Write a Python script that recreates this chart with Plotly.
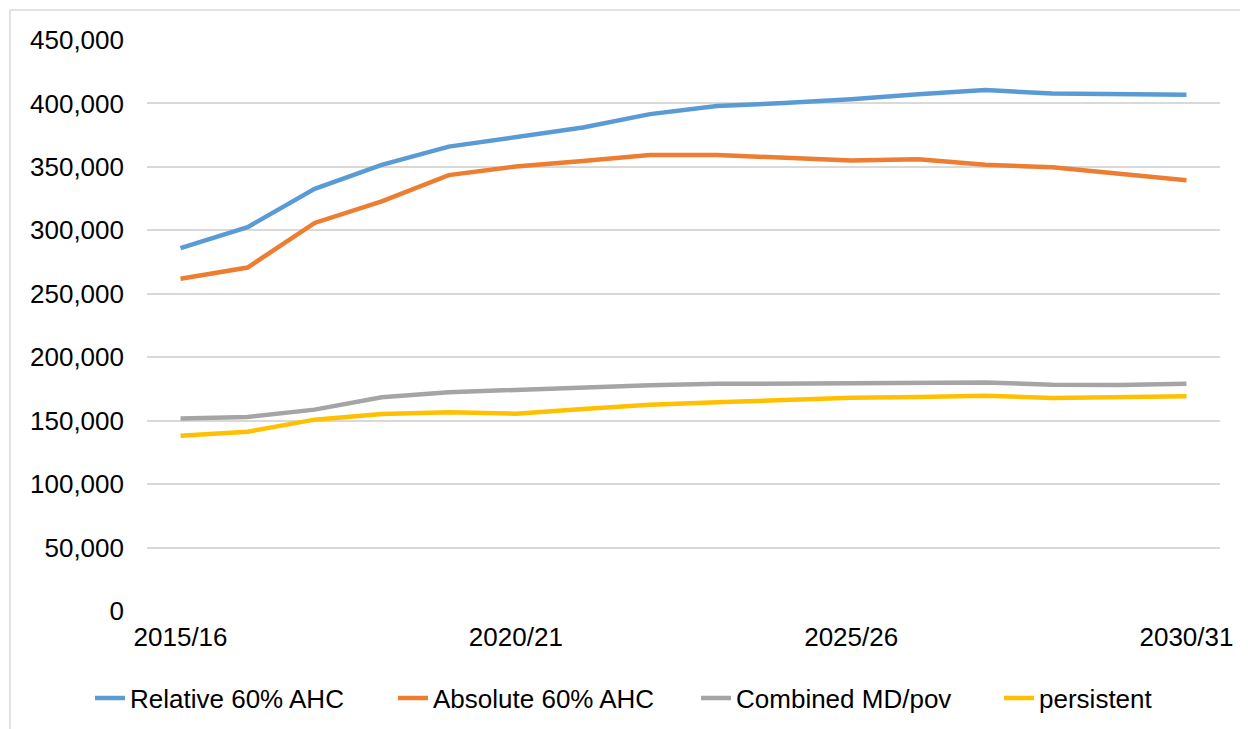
import plotly.graph_objects as go

years = ["2015/16", "2016/17", "2017/18", "2018/19", "2019/20", "2020/21",
         "2021/22", "2022/23", "2023/24", "2024/25", "2025/26", "2026/27",
         "2027/28", "2028/29", "2029/30", "2030/31"]
tick_years = ["2015/16", "2020/21", "2025/26", "2030/31"]

relative_60_ahc = [286000, 302500, 332700, 351600, 366000, 373800, 381000, 391600,
                   397900, 400300, 403300, 407300, 410500, 407900, 407600, 406800]
absolute_60_ahc = [261800, 270700, 305800, 322800, 343500, 350300, 354700, 359400,
                   359400, 357600, 355000, 356000, 351600, 349700, 344500, 339500]
combined_md_pov = [151800, 152900, 158700, 168400, 172400, 174500, 176600, 177900,
                   179000, 179200, 180200, 180000, 180000, 178400, 178100, 179000]
persistent = [138200, 141300, 150800, 155300, 156600, 155500, 159200, 162600,
              164500, 166300, 168100, 168700, 169700, 167900, 168400, 169200]

series = [
    ("Relative 60% AHC", relative_60_ahc, "#5B9BD5"),
    ("Absolute 60% AHC", absolute_60_ahc, "#ED7D31"),
    ("Combined MD/pov", combined_md_pov, "#A5A5A5"),
    ("persistent", persistent, "#FFC000"),
]

fig = go.Figure()
for name, vals, color in series:
    fig.add_trace(go.Scatter(
        x=list(range(len(years))), y=vals, name=name, mode="lines",
        line=dict(color=color, width=4.5),
        customdata=years,
        hovertemplate="%{customdata}: %{y:,}<extra>" + name + "</extra>",
    ))

tick_idx = [years.index(t) for t in tick_years]

# page body has an 8px margin, so the figure is 8px smaller and left/top margins shifted
fig.update_layout(
    width=1240, height=721,
    paper_bgcolor="white", plot_bgcolor="white",
    font=dict(family="Liberation Sans, Arial, sans-serif", size=26, color="#000000"),
    margin=dict(l=139, r=28, t=32, b=118, autoexpand=False),
    xaxis=dict(
        range=[-0.5, len(years) - 0.5],
        tickvals=tick_idx, ticktext=tick_years,
        showgrid=False, zeroline=False, showline=False, ticks="",
        ticklabelstandoff=8,
    ),
    yaxis=dict(
        range=[0, 450000], dtick=50000, tickformat=",",
        showgrid=True, gridcolor="#D9D9D9", gridwidth=1.5,
        zeroline=False, showline=False, ticks="",
        ticklabelstandoff=22,
    ),
    legend=dict(
        orientation="h", x=-0.0531, xanchor="left", y=-0.1524, yanchor="middle",
        font=dict(size=26), tracegroupgap=0,
        entrywidth=258, entrywidthmode="pixels",
    ),
    showlegend=True,
    shapes=[dict(
        type="rect", xref="paper", yref="paper",
        x0=-0.1277, x1=1.2, y0=-0.5, y1=1.0525,
        line=dict(color="#D9D9D9", width=1.5), fillcolor="rgba(0,0,0,0)",
        layer="below",
    )],
)

fig.write_html("out.html")
